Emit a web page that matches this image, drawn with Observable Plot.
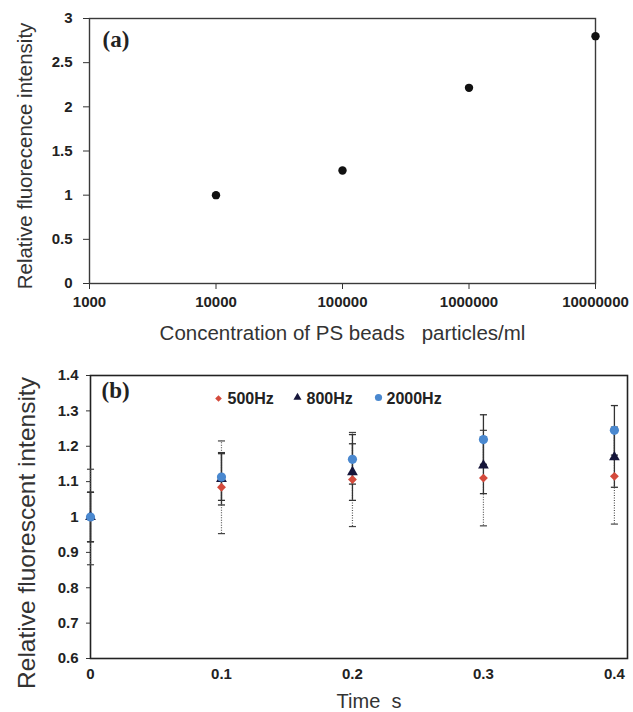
<!DOCTYPE html>
<html>
<head>
<meta charset="utf-8">
<script src="https://cdn.jsdelivr.net/npm/d3@7"></script>
<script src="https://cdn.jsdelivr.net/npm/@observablehq/plot@0.6"></script>
<style>
  html, body { margin: 0; padding: 0; background: #fff; }
  #chart svg { display: block; }
</style>
</head>
<body>
<div id="chart"></div>
<script>
// ---- Panel (a) data ----
const concentration = [1e4, 1e5, 1e6, 1e7];
const intensityA = [1.0, 1.28, 2.215, 2.8];
const concTicks = [1e3, 1e4, 1e5, 1e6, 1e7];
const yTicksA = [0, 0.5, 1, 1.5, 2, 2.5, 3];

// ---- Panel (b) data ----
const times = [0, 0.1, 0.2, 0.3, 0.4];
const seriesNames = ["500Hz", "800Hz", "2000Hz"];
const v500 = [1.0, 1.084, 1.106, 1.110, 1.115];
const e500 = [0.135, 0.131, 0.133, 0.135, 0.135];
const v800 = [1.0, 1.108, 1.127, 1.146, 1.169];
const e800 = [0.07, 0.074, 0.08, 0.08, 0.085];
const v2000 = [1.0, 1.113, 1.163, 1.219, 1.245];
const e2000 = [0.07, 0.066, 0.07, 0.07, 0.07];
const timeTicks = [0, 0.1, 0.2, 0.3, 0.4];
const yTicksB = [0.6, 0.7, 0.8, 0.9, 1, 1.1, 1.2, 1.3, 1.4];

const FONT = "'Liberation Sans', Arial, Helvetica, sans-serif";
const SERIF = "'Liberation Serif', 'Times New Roman', serif";
const fmt = d => String(d);

const capSymbol = {
  draw(context, size) {
    const w = Math.sqrt(size);
    context.moveTo(-w, 0);
    context.lineTo(w, 0);
  }
};

// ---------- Panel (a) ----------
const tableA = concentration.map((c, i) => ({c, v: intensityA[i]}));

const plotA = Plot.plot({
  width: 633,
  height: 350,
  marginLeft: 89,
  marginRight: 38,
  marginTop: 18,
  marginBottom: 67,
  style: {background: "white", color: "#222", fontFamily: FONT, fontSize: "15px", fontWeight: "bold"},
  x: {type: "log", domain: [1e3, 1e7]},
  y: {domain: [0, 3]},
  marks: [
    Plot.axisX({ticks: concTicks, tickFormat: d3.format("d"), tickSize: 6, tickPadding: 7, label: null, stroke: "#333"}),
    Plot.axisY({ticks: yTicksA, tickFormat: fmt, tickSize: 6, tickPadding: 11, label: null, stroke: "#333"}),
    Plot.frame({stroke: "#3a3a3a", strokeWidth: 1.4}),
    Plot.dot(tableA, {x: "c", y: "v", r: 4.2, fill: "#111", stroke: null}),
    Plot.text(["(a)"], {frameAnchor: "top-left", dx: 13, dy: 21, text: d => d, textAnchor: "start", lineAnchor: "middle",
      fontFamily: SERIF, fontSize: 23, fontWeight: "bold", fill: "#222"}),
    Plot.text(["Relative fluorecence intensity"], {frameAnchor: "left", dx: -64, dy: 5, rotate: -90,
      textAnchor: "middle", lineAnchor: "middle",
      text: d => d, fontSize: 20.5, fontWeight: "normal", fill: "#333"}),
    Plot.text(["Concentration of PS beads   particles/ml"], {frameAnchor: "bottom", dy: 50,
      textAnchor: "middle", lineAnchor: "middle",
      text: d => d, fontSize: 20.5, fontWeight: "normal", fill: "#333", style: "white-space:pre"})
  ]
});

// ---------- Panel (b) ----------
const rows = [];
const groups = [[seriesNames[0], v500, e500], [seriesNames[1], v800, e800], [seriesNames[2], v2000, e2000]];
for (const [name, vals, errs] of groups) {
  times.forEach((t, i) => rows.push({series: name, t, v: vals[i], e: errs[i]}));
}
const r500 = rows.filter(d => d.series === "500Hz");
const r800 = rows.filter(d => d.series === "800Hz");
const r2000 = rows.filter(d => d.series === "2000Hz");

const RED = "#d44a3c", NAVY = "#15153a", BLUE = "#4a88cf";

const legendText = (name, dx) => Plot.text([name], {frameAnchor: "top-left", dx, dy: 23, text: d => d,
  textAnchor: "start", lineAnchor: "middle", fontSize: 16, fontWeight: "bold", fill: "#222"});

const plotB = Plot.plot({
  width: 633,
  height: 362,
  marginLeft: 90,
  marginRight: 6,
  marginTop: 25,
  marginBottom: 54,
  style: {background: "white", color: "#222", fontFamily: FONT, fontSize: "15px", fontWeight: "bold"},
  x: {domain: [0, 0.41]},
  y: {domain: [0.6, 1.4]},
  marks: [
    Plot.axisX({ticks: timeTicks, tickFormat: fmt, tickSize: 0, tickPadding: 10, label: null}),
    Plot.axisY({ticks: yTicksB, tickFormat: fmt, tickSize: 4, tickPadding: 8, label: null, stroke: "#333"}),
    Plot.frame({stroke: "#222", strokeWidth: 1.6}),
    // error bars 500Hz (dotted)
    Plot.ruleX(r500, {x: "t", y1: d => d.v - d.e, y2: d => d.v + d.e, stroke: "#555", strokeWidth: 1.2, strokeDasharray: "1,1.5"}),
    Plot.dot(r500, {x: "t", y: d => d.v - d.e, symbol: capSymbol, r: 2, stroke: "#444", strokeWidth: 1.2, fill: "none"}),
    Plot.dot(r500, {x: "t", y: d => d.v + d.e, symbol: capSymbol, r: 2, stroke: "#444", strokeWidth: 1.2, fill: "none"}),
    // error bars 800Hz & 2000Hz (solid)
    Plot.ruleX(r800, {x: "t", y1: d => d.v - d.e, y2: d => d.v + d.e, stroke: "#333", strokeWidth: 1.3}),
    Plot.dot(r800, {x: "t", y: d => d.v - d.e, symbol: capSymbol, r: 2, stroke: "#333", strokeWidth: 1.3, fill: "none"}),
    Plot.dot(r800, {x: "t", y: d => d.v + d.e, symbol: capSymbol, r: 2, stroke: "#333", strokeWidth: 1.3, fill: "none"}),
    Plot.ruleX(r2000, {x: "t", y1: d => d.v - d.e, y2: d => d.v + d.e, stroke: "#333", strokeWidth: 1.3}),
    Plot.dot(r2000, {x: "t", y: d => d.v - d.e, symbol: capSymbol, r: 2, stroke: "#333", strokeWidth: 1.3, fill: "none"}),
    Plot.dot(r2000, {x: "t", y: d => d.v + d.e, symbol: capSymbol, r: 2, stroke: "#333", strokeWidth: 1.3, fill: "none"}),
    // markers
    Plot.dot(r500, {x: "t", y: "v", symbol: "diamond2", r: 4, fill: RED, stroke: null}),
    Plot.dot(r800, {x: "t", y: "v", symbol: "triangle", r: 4, fill: NAVY, stroke: null}),
    Plot.dot(r2000, {x: "t", y: "v", r: 4.6, fill: BLUE, stroke: null}),
    // legend
    Plot.dot([seriesNames[0]], {frameAnchor: "top-left", dx: 128, dy: 23, symbol: "diamond2", r: 3, fill: RED, stroke: null}),
    legendText(seriesNames[0], 137),
    Plot.dot([seriesNames[1]], {frameAnchor: "top-left", dx: 207, dy: 22, symbol: "triangle", r: 3, fill: NAVY, stroke: null}),
    legendText(seriesNames[1], 216),
    Plot.dot([seriesNames[2]], {frameAnchor: "top-left", dx: 288, dy: 22, r: 3.6, fill: BLUE, stroke: null}),
    legendText(seriesNames[2], 296),
    Plot.text(["(b)"], {frameAnchor: "top-left", dx: 11, dy: 15, text: d => d, textAnchor: "start", lineAnchor: "middle",
      fontFamily: SERIF, fontSize: 23, fontWeight: "bold", fill: "#222"}),
    Plot.text(["Relative fluorescent intensity"], {frameAnchor: "left", dx: -63, dy: 16, rotate: -90,
      textAnchor: "middle", lineAnchor: "middle",
      text: d => d, fontSize: 24.5, fontWeight: "normal", fill: "#333"}),
    Plot.text(["Time  s"], {frameAnchor: "bottom", dx: 10, dy: 43,
      textAnchor: "middle", lineAnchor: "middle",
      text: d => d, fontSize: 20, fontWeight: "normal", fill: "#333", style: "white-space:pre"})
  ]
});

const root = document.getElementById("chart");
root.appendChild(plotA);
root.appendChild(plotB);
</script>
</body>
</html>
